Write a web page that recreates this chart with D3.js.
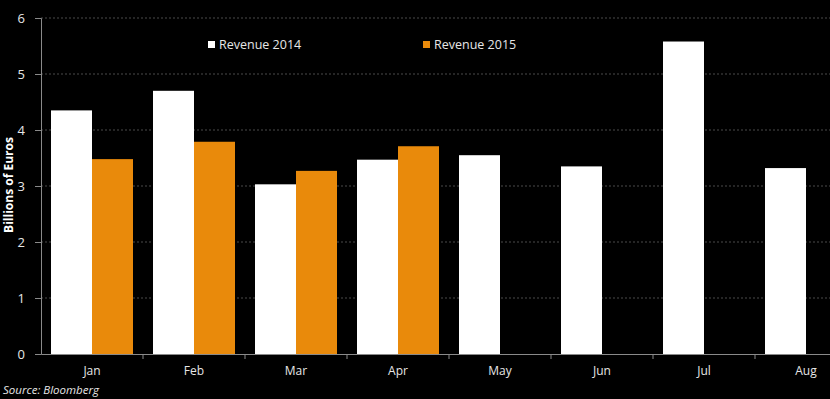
<!DOCTYPE html>
<html>
<head>
<meta charset="utf-8">
<script src="https://cdn.jsdelivr.net/npm/d3@7"></script>
<style>
  html, body { margin: 0; padding: 0; background: #000; }
  svg { display: block; }
  text { font-family: "Open Sans", "Noto Sans", sans-serif; }
</style>
</head>
<body>
<div id="chart"></div>
<script>
const months = ['Jan', 'Feb', 'Mar', 'Apr', 'May', 'Jun', 'Jul', 'Aug'];
const series = ['Revenue 2014', 'Revenue 2015'];
const rev2014 = [4.35, 4.70, 3.03, 3.47, 3.55, 3.35, 5.58, 3.32];
const rev2015 = [3.48, 3.79, 3.27, 3.71, null, null, null, null];
const yTicks = [0, 1, 2, 3, 4, 5, 6];
const colors = ['#ffffff', '#e98a0b'];

const width = 830, height = 399;
const svg = d3.select('#chart').append('svg')
    .attr('width', width)
    .attr('height', height)
    .style('background', '#000');

// plot area runs past the right edge, the original is cropped there
const x0 = d3.scaleBand().domain(months).range([41, 857]).padding(0);
const x1 = d3.scaleBand().domain(series).range([10, x0.bandwidth() - 10]).padding(0);
const y = d3.scaleLinear().domain([0, 6]).range([354, 18]);

// gridlines
svg.append('g')
    .selectAll('line')
    .data(yTicks.filter(d => d > 0))
    .enter()
    .append('line')
    .attr('x1', 41)
    .attr('x2', width)
    .attr('y1', d => y(d))
    .attr('y2', d => y(d))
    .attr('stroke', '#4a4a4a')
    .attr('stroke-width', 1)
    .attr('stroke-dasharray', '2,2');

// bars
const rows = months.map((m, i) => ({ month: m, values: [rev2014[i], rev2015[i]] }));
const group = svg.selectAll('.month')
    .data(rows)
    .enter()
    .append('g')
    .attr('class', 'month')
    .attr('transform', d => `translate(${x0(d.month)},0)`);

group.selectAll('rect')
    .data(d => d.values.map((v, j) => ({ key: series[j], value: v, idx: j })).filter(d => d.value != null))
    .enter()
    .append('rect')
    .attr('x', d => x1(d.key))
    .attr('width', x1.bandwidth())
    .attr('y', d => y(d.value))
    .attr('height', d => y(0) - y(d.value))
    .attr('fill', d => colors[d.idx]);

// y axis
const yAxis = svg.append('g')
    .attr('transform', 'translate(41,0)')
    .call(d3.axisLeft(y).tickValues(yTicks).tickSize(6).tickPadding(10).tickFormat(d3.format('d')));
yAxis.select('.domain').attr('stroke', '#8a8a8a');
yAxis.selectAll('.tick line').attr('stroke', '#8a8a8a');
yAxis.selectAll('.tick text')
    .attr('fill', '#e6e6e6')
    .style('font-size', '13px')
    .style('font-family', '"Open Sans", sans-serif');

// x axis
const xAxis = svg.append('g')
    .attr('transform', 'translate(0,354)')
    .call(d3.axisBottom(x0).tickSize(0).tickPadding(12));
xAxis.select('.domain').attr('stroke', '#8a8a8a');
xAxis.selectAll('.tick text')
    .attr('fill', '#e6e6e6')
    .style('font-size', '12px')
    .style('font-family', '"Open Sans", sans-serif');

// boundary ticks between months
svg.append('g')
    .selectAll('line')
    .data(months.slice(1))
    .enter()
    .append('line')
    .attr('x1', d => x0(d))
    .attr('x2', d => x0(d))
    .attr('y1', 354)
    .attr('y2', 359)
    .attr('stroke', '#8a8a8a');

// y title
svg.append('text')
    .attr('transform', 'translate(13,185) rotate(-90)')
    .attr('text-anchor', 'middle')
    .attr('fill', '#fff')
    .style('font-size', '12px')
    .style('font-weight', 'bold')
    .text('Billions of Euros');

// legend
const legendX = [208, 423];
const legend = svg.selectAll('.legend')
    .data(series)
    .enter()
    .append('g')
    .attr('class', 'legend')
    .attr('transform', (d, i) => `translate(${legendX[i]},40)`);
legend.append('rect')
    .attr('width', 7)
    .attr('height', 7)
    .attr('y', 1)
    .attr('fill', (d, i) => colors[i]);
legend.append('text')
    .attr('x', 11)
    .attr('y', 8.5)
    .attr('fill', '#e6e6e6')
    .style('font-size', '12.5px')
    .text(d => d);

// source
svg.append('text')
    .attr('x', 3)
    .attr('y', 394)
    .attr('fill', '#e6e6e6')
    .style('font-size', '11.5px')
    .style('font-style', 'italic')
    .text('Source: Bloomberg');
</script>
</body>
</html>
